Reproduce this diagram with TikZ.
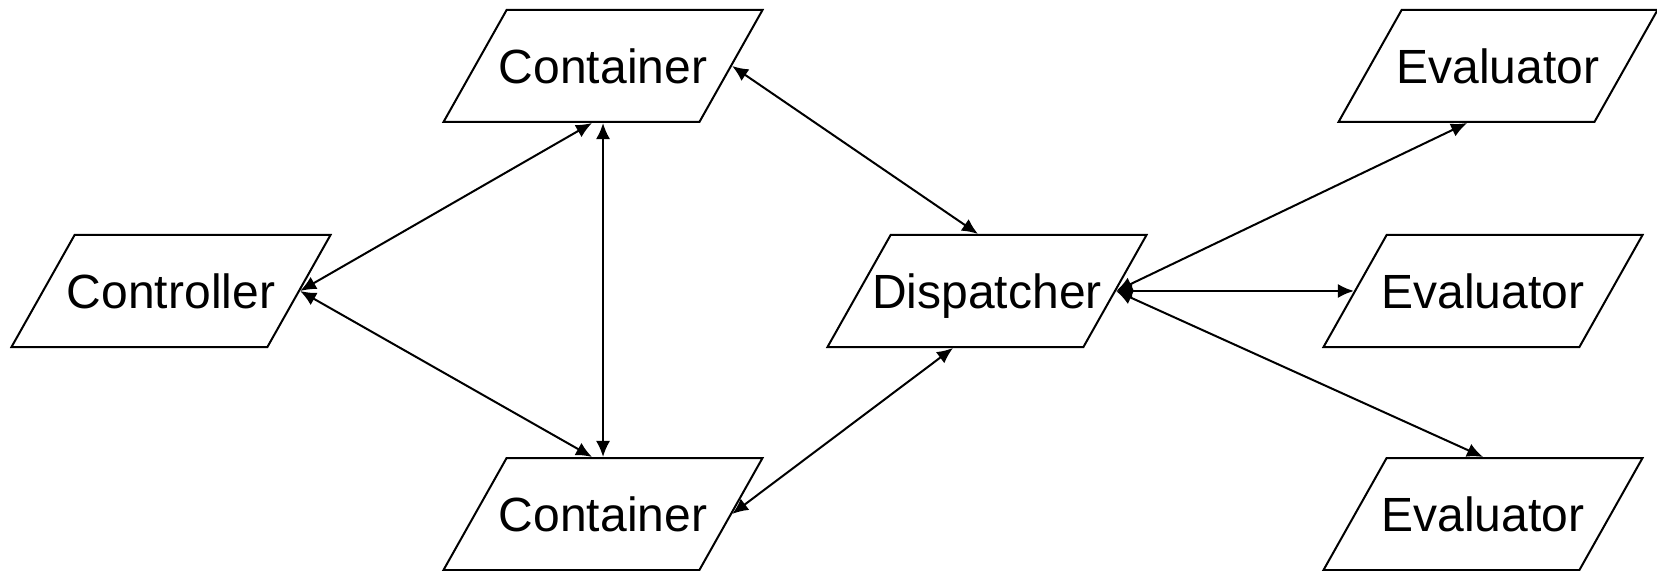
\documentclass[tikz,border=0pt]{standalone}
\usepackage{fontspec}
\setmainfont{Liberation Sans}
\usetikzlibrary{shapes.geometric,arrows.meta}

% label box narrower than the text, so the words run into the slanted ends
\newcommand{\boxlabel}[1]{\makebox[96pt]{#1}}

\tikzset{
    box/.style={draw, line width=1pt, trapezium, trapezium left angle=60.6,
        trapezium right angle=119.4, trapezium stretches body,
        minimum width=159.5pt, text height=19.6pt, text depth=2.4pt,
        inner xsep=0pt, inner ysep=17pt,
        font=\fontsize{24}{28}\selectfont},
    link/.style={<->, line width=1pt}
}

\begin{document}
\begin{tikzpicture}[x=0.5pt, y=-0.5pt, >={Latex[length=8pt,width=7pt]}]
    \useasboundingbox (0,0) rectangle (1657,571);

    % Draw the boxes
    \node[box] (ctrl) at (171,291) {\boxlabel{Controller}};
    \node[box] (conttop) at (603,66) {\boxlabel{Container}};
    \node[box] (contbot) at (603,514) {\boxlabel{Container}};
    \node[box] (disp) at (987,291) {\boxlabel{Dispatcher}};
    \node[box] (evaltop) at (1498,66) {\boxlabel{Evaluator}};
    \node[box] (evalmid) at (1483,291) {\boxlabel{Evaluator}};
    \node[box] (evalbot) at (1483,514) {\boxlabel{Evaluator}};

    % Controller and containers
    \draw[link] (ctrl.east) -- ([xshift=-5.5pt]conttop.south);
    \draw[link] (ctrl.east) -- ([xshift=-5.5pt]contbot.north);
    \draw[link] (conttop.south) -- (contbot.north);

    % Containers and dispatcher
    \draw[link] (conttop.east) -- ([xshift=-4.5pt]disp.north);
    \draw[link] (contbot.east) -- ([xshift=-17pt]disp.south);

    % Dispatcher and evaluators
    \draw[link] (disp.east) -- ([xshift=-15.5pt]evaltop.south);
    \draw[link] (disp.east) -- (evalmid.west);
    \draw[link] (disp.east) -- (evalbot.north);
\end{tikzpicture}
\end{document}
